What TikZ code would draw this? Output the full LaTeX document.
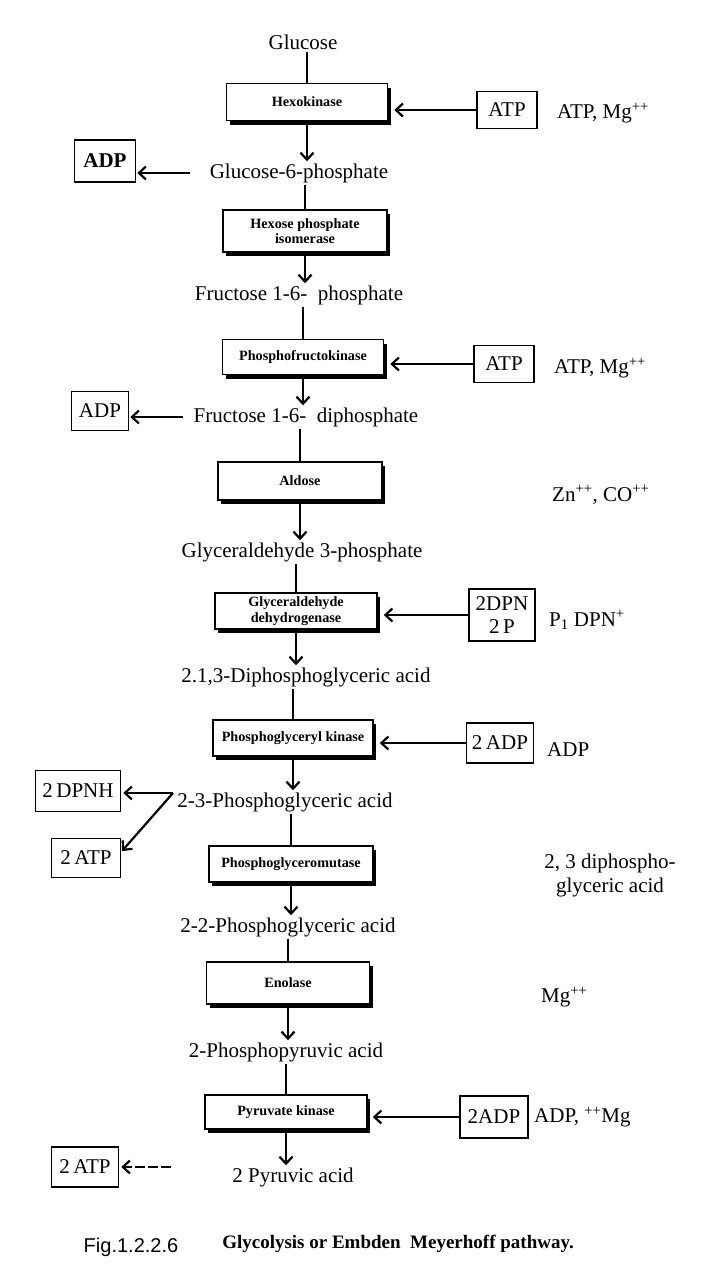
\documentclass[tikz,border=0pt]{standalone}
\usepackage{fontspec}
\setmainfont{Liberation Serif}
\newfontfamily\capsans{Liberation Sans}
\usetikzlibrary{arrows.meta,shadows}
\begin{document}
\begin{tikzpicture}[x=1pt,y=-1pt,
  txt/.style={font=\fontsize{21}{24}\selectfont, inner sep=2pt},
  lab/.style={font=\fontsize{21}{24}\selectfont, inner sep=0pt, anchor=west},
  enz/.style={draw, line width=1.6pt, fill=white, inner sep=0pt, align=center,
     font=\bfseries\fontsize{14.2}{15.5}\selectfont,
     drop shadow={shadow xshift=3pt, shadow yshift=-4pt, fill=black, opacity=1}},
  cbox/.style={draw, line width=1.6pt, inner sep=0pt, font=\fontsize{21}{24}\selectfont},
  ln/.style={line width=2.2pt},
  arr/.style={line width=2.2pt, -{Straight Barb[length=7pt,width=13pt]}},
]
\useasboundingbox (0,0) rectangle (704,1286);

% nodes
\node[txt] (glu) at (303,42) {Glucose};
\node[enz, minimum width=161pt, minimum height=37pt] (hex) at (307,102) {Hexokinase};
\node[cbox, minimum width=60pt, minimum height=37pt] (atp1) at (507,110) {ATP};
\node[lab] (atp1l) at (557,113) {ATP, Mg\textsuperscript{++}};
\node[txt] (g6p) at (299,173) {Glucose-6-phosphate};
\node[cbox, font=\bfseries\fontsize{21}{24}\selectfont, minimum width=61pt, minimum height=42pt] (adp1) at (105,161) {ADP};

\node[enz, minimum width=164pt, minimum height=42pt] (hpi) at (305,231) {Hexose phosphate\\isomerase};
\node[txt] (f16p) at (299,295) {Fructose 1-6-\enspace phosphate};
\node[enz, minimum width=161pt, minimum height=35pt] (pfk) at (303,357) {Phosphofructokinase};
\node[cbox, minimum width=60pt, minimum height=37pt] (atp2) at (504,364) {ATP};
\node[lab] (atp2l) at (554,368) {ATP, Mg\textsuperscript{++}};
\node[txt] (f16dp) at (306,417) {Fructose 1-6-\enspace diphosphate};
\node[cbox, minimum width=57pt, minimum height=39pt] (adp2) at (100,411) {ADP};

\node[enz, minimum width=164pt, minimum height=38pt] (ald) at (300,481) {Aldose};
\node[lab] (zn) at (552,495) {Zn\textsuperscript{++}, CO\textsuperscript{++}};
\node[txt] (g3p) at (302,552) {Glyceraldehyde 3-phosphate};
\node[enz, minimum width=162pt, minimum height=36pt] (gd) at (296,611) {Glyceraldehyde\\dehydrogenase};
\node[cbox, minimum width=66pt, minimum height=52pt, align=center, font=\fontsize{21}{23}\selectfont] (dpn) at (502,615) {2DPN\\2\,P};
\node[lab] (p1) at (549,620) {P\textsubscript{1} DPN\textsuperscript{+}};
\node[txt] (dpga) at (306,677) {2.1,3-Diphosphoglyceric acid};

\node[enz, minimum width=160pt, minimum height=36pt] (pgk) at (293,738) {Phosphoglyceryl kinase};
\node[cbox, minimum width=67pt, minimum height=40pt] (adp3) at (500,743) {2\,ADP};
\node[lab] (adpl) at (547,750) {ADP};
\node[txt] (pga23) at (285,802) {2-3-Phosphoglyceric acid};
\node[cbox, minimum width=85pt, minimum height=41pt] (dpnh) at (78,791) {2\,DPNH};
\node[cbox, minimum width=69pt, minimum height=39pt] (atp3) at (86,858) {2\,ATP};
\coordinate (j) at (173,793);

\node[enz, minimum width=164pt, minimum height=36pt] (pgm) at (291,864) {Phosphoglyceromutase};
\node[txt, align=center] (dpgl) at (610,875) {2, 3 diphospho-\\glyceric acid};
\node[txt] (pga22) at (288,927) {2-2-Phosphoglyceric acid};
\node[enz, minimum width=163pt, minimum height=42pt] (eno) at (288,983) {Enolase};
\node[lab] (mg) at (541,997) {Mg\textsuperscript{++}};
\node[txt] (ppa) at (286,1052) {2-Phosphopyruvic acid};

\node[enz, minimum width=162pt, minimum height=34pt] (pk) at (286,1112) {Pyruvate kinase};
\node[cbox, minimum width=68pt, minimum height=42pt] (adp4) at (494,1117) {2ADP};
\node[lab] (adpmg) at (534,1117) {ADP, \textsuperscript{++}Mg};
\node[txt] (pyr) at (293,1177) {2 Pyruvic acid};
\node[cbox, minimum width=67pt, minimum height=40pt] (atp4) at (85,1167) {2\,ATP};
\coordinate (a4) at (171,1167);

\node[font=\capsans\fontsize{20}{24}\selectfont] (fig) at (131,1247) {Fig.1.2.2.6};
\node[font=\bfseries\fontsize{19}{24}\selectfont] (cap) at (398,1244) {Glycolysis or Embden~ Meyerhoff pathway.};

% main chain
\draw[ln] (hex.north) -- (hex.north |- glu.south);
\draw[arr] (hex.south) -- (hex.south |- g6p.north);
\draw[ln] (hpi.north) -- (hpi.north |- g6p.south);
\draw[arr] (hpi.south) -- (hpi.south |- f16p.north);
\draw[ln] (pfk.north) -- (pfk.north |- f16p.south);
\draw[arr] (pfk.south) -- (pfk.south |- f16dp.north);
\draw[ln] (ald.north) -- (ald.north |- f16dp.south);
\draw[arr] (ald.south) -- (ald.south |- g3p.north);
\draw[ln] (gd.north) -- (gd.north |- g3p.south);
\draw[arr] (gd.south) -- (gd.south |- dpga.north);
\draw[ln] (pgk.north) -- (pgk.north |- dpga.south);
\draw[arr] (pgk.south) -- (pgk.south |- pga23.north);
\draw[ln] (pgm.north) -- (pgm.north |- pga23.south);
\draw[arr] (pgm.south) -- (pgm.south |- pga22.north);
\draw[ln] (eno.north) -- (eno.north |- pga22.south);
\draw[arr] (eno.south) -- (eno.south |- ppa.north);
\draw[ln] (pk.north) -- (pk.north |- ppa.south);
\draw[arr] (pk.south) -- (pk.south |- pyr.north);

% side inputs
\draw[arr, shorten >=6pt] (atp1.west) -- (atp1.west -| hex.east);
\draw[arr, shorten >=6pt] (atp2.west) -- (atp2.west -| pfk.east);
\draw[arr, shorten >=6pt] (dpn.west) -- (dpn.west -| gd.east);
\draw[arr, shorten >=6pt] (adp3.west) -- (adp3.west -| pgk.east);
\draw[arr, shorten >=5pt] (adp4.west) -- (adp4.west -| pk.east);

% side outputs
\draw[arr, shorten <=18pt, shorten >=1pt] (g6p.west) -- (g6p.west -| adp1.east);
\draw[arr, shorten <=9pt, shorten >=1pt] (f16dp.west) -- (f16dp.west -| adp2.east);
\draw[arr, shorten >=2pt] (j) -- (j -| dpnh.east);
\draw[arr, shorten >=1pt] (j) -- (atp3.10);
\draw[arr, dash pattern=on 10pt off 3pt, shorten >=2pt] (a4) -- (atp4.east);
\end{tikzpicture}
\end{document}
